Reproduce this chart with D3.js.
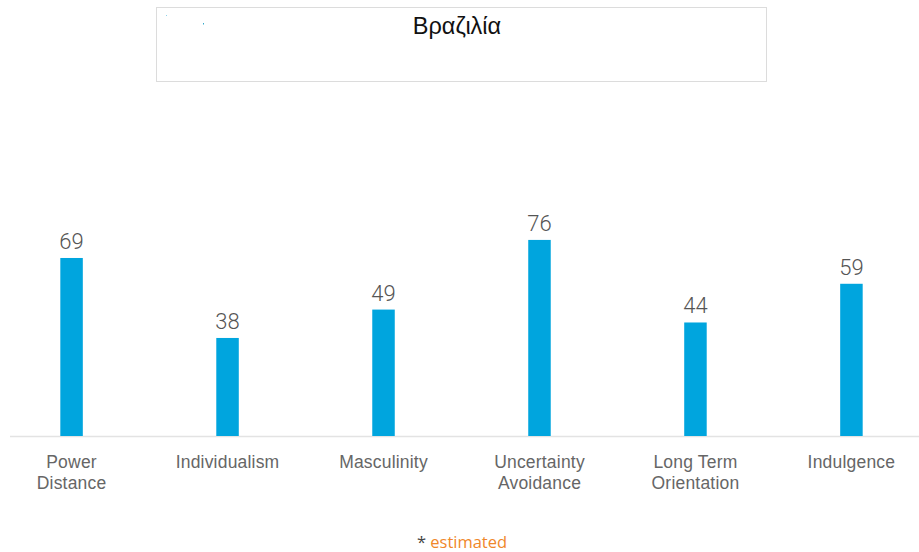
<!DOCTYPE html>
<html><head><meta charset="utf-8">
<script src="https://cdn.jsdelivr.net/npm/d3@7"></script>
<style>body{margin:0;background:#fff;}svg{display:block;}</style>
</head><body>
<svg id="c" width="919" height="552"></svg>
<script>
const categories = ["Power Distance","Individualism","Masculinity","Uncertainty Avoidance","Long Term Orientation","Indulgence"];
const labelLines = [["Power","Distance"],["Individualism"],["Masculinity"],["Uncertainty","Avoidance"],["Long Term","Orientation"],["Indulgence"]];
const values = [69,38,49,76,44,59];
const title = "Βραζιλία";

const svg = d3.select("#c");
const x = d3.scaleBand().domain(categories).range([-7, 929]).paddingInner(0.859).paddingOuter(0.43);
const y = d3.scaleLinear().domain([0,100]).range([436,178]);

// title box
svg.append("rect").attr("x",156.5).attr("y",7.5).attr("width",610).attr("height",74)
  .attr("fill","#fff").attr("stroke","#dcdcdc").attr("stroke-width",1);
svg.append("text").attr("x",457).attr("y",34).attr("text-anchor","middle")
  .attr("font-family","Liberation Sans, Arial, sans-serif").attr("font-size",23.5).attr("fill","#111").text(title);
svg.append("rect").attr("x",166).attr("y",15).attr("width",1).attr("height",1).attr("fill","#8fd3ea");
svg.append("rect").attr("x",203).attr("y",23).attr("width",1).attr("height",1.5).attr("fill","#33aacc");

// baseline
svg.append("line").attr("x1",10).attr("x2",919).attr("y1",y(0)+0.5).attr("y2",y(0)+0.5)
  .attr("stroke","#e3e3e3").attr("stroke-width",1.5);

const bw = 22.5;
svg.selectAll("rect.bar").data(values).join("rect").attr("class","bar")
  .attr("x",(d,i)=>x(categories[i]) + x.bandwidth()/2 - bw/2 + 0.5)
  .attr("width",bw)
  .attr("y",d=>y(d)).attr("height",d=>y(0)-y(d))
  .attr("fill","#00a5de");

svg.selectAll("text.val").data(values).join("text").attr("class","val")
  .attr("x",(d,i)=>x(categories[i]) + x.bandwidth()/2 + 0.5)
  .attr("y",d=>y(d)-9)
  .attr("text-anchor","middle").attr("font-family","Roboto, sans-serif").attr("font-weight",300)
  .attr("font-size",22).attr("fill","#555").text(d=>d);

const lab = svg.selectAll("text.lab").data(labelLines).join("text").attr("class","lab")
  .attr("text-anchor","middle").attr("font-family","Liberation Sans, Arial, sans-serif")
  .attr("font-size",17.5).attr("letter-spacing",0.2).attr("fill","#666");
lab.each(function(lines,i){
  const t = d3.select(this);
  const cx = x(categories[i]) + x.bandwidth()/2 + 0.5;
  lines.forEach((l,j)=>t.append("tspan").attr("x",cx).attr("y",468 + j*21).text(l));
});

const foot = svg.append("text").attr("x",462).attr("y",548).attr("text-anchor","middle")
  .attr("font-family","Open Sans, sans-serif").attr("font-size",16.5);
foot.append("tspan").attr("fill","#444").text("* ");
foot.append("tspan").attr("fill","#f0872a").text("estimated");
</script>
</body></html>
